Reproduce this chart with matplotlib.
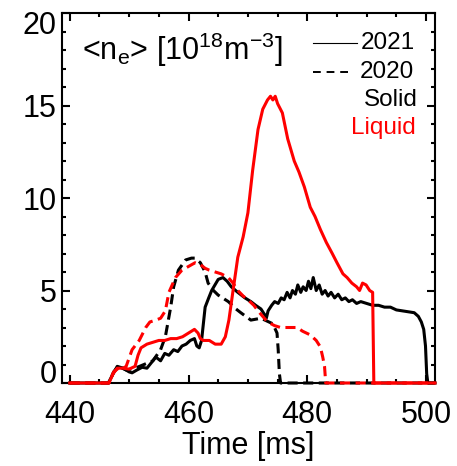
import numpy as np
import matplotlib
matplotlib.use('Agg')
import matplotlib.pyplot as plt
import matplotlib.transforms as mtransforms

plt.rcParams['font.family'] = ['Liberation Sans', 'DejaVu Sans']
plt.rcParams['mathtext.default'] = 'regular'

# line-averaged density, 10^18 m^-3, vs time in ms
t_solid_2021 = [440, 446.5, 447.3, 448, 449, 450, 450.5, 451.3, 452.2, 453, 454, 454.5,
                455.3, 456, 456.7, 457.5, 458.2, 458.9, 459.6, 460.3, 461, 461.4, 461.8,
                462.2, 462.8, 463.4, 463.9, 465, 465.8, 466.5, 467.2, 468.3, 469.5, 470.5,
                471.3, 472.2, 472.8, 473.1, 473.4, 474, 474.5, 475.1, 475.6, 476.1, 476.6,
                477.1, 477.5, 478, 478.4, 478.9, 479.3, 479.8, 480.2, 480.6, 481, 481.5,
                482, 482.5, 483, 483.5, 484, 484.6, 485.2, 485.8, 486.4, 487, 487.6, 488.3,
                489, 490, 491, 492, 493, 494, 495, 496, 497, 498, 498.7, 499.2, 499.6,
                499.9, 500.1, 500.3, 501.5]
n_solid_2021 = [0, 0, 0.5, 0.9, 0.8, 0.6, 0.55, 0.7, 0.85, 0.8, 1.2, 1.4,
                1.2, 1.6, 1.5, 1.8, 1.7, 2.0, 2.1, 2.3, 2.4, 2.0, 1.9,
                2.3, 4.1, 4.6, 5.0, 5.6, 5.7, 5.5, 5.2, 4.9, 4.6, 4.4,
                4.2, 4.0, 3.7, 3.5, 3.9, 4.2, 4.4, 4.3, 4.6, 4.5, 4.9,
                4.6, 5.0, 4.8, 5.3, 4.9, 5.2, 5.0, 5.5, 5.1, 5.7, 5.0,
                5.3, 4.8, 5.0, 4.7, 4.9, 4.6, 4.8, 4.5, 4.6, 4.4, 4.5, 4.3,
                4.4, 4.3, 4.2, 4.2, 4.1, 4.1, 3.95, 3.9, 3.85, 3.8, 3.6, 3.3, 2.9,
                2.0, 0.5, 0, 0]

t_solid_2020 = [440, 446.6, 447.4, 448.2, 449.5, 451, 452.5, 454, 455.3, 456.1, 457, 457.5,
                458.3, 459.5, 460.5, 461.1, 462, 462.8, 463.3, 464.2, 465, 466.7, 468,
                468.8, 470.5, 472.2, 474.2, 474.9, 475.1, 475.3, 475.5, 501.5]
n_solid_2020 = [0, 0, 0.6, 0.9, 0.7, 0.8, 1.0, 1.2, 1.8, 2.5, 4.1, 5.2,
                6.1, 6.65, 6.75, 6.75, 6.5, 6.0, 5.4, 5.0, 4.75, 4.4, 4.0,
                3.8, 3.4, 3.5, 3.2, 2.7, 1.8, 0.5, 0, 0]

t_liquid_2021 = [440, 446.6, 447.3, 448, 449, 450, 451, 451.5, 452, 453, 454, 455, 456, 457,
                 458, 459, 460, 461, 461.6, 462, 462.5, 463.5, 464.5, 465.5, 466.2, 466.8,
                 467.5, 468.3, 469.2, 470, 470.8, 471.7, 472.5, 473.3, 473.8, 474.2, 474.6,
                 475, 475.8, 476.7, 477.8, 478.6, 479.5, 480.5, 481.3, 482.2, 483.2, 484.2,
                 485, 486, 486.7, 487.5, 488.3, 488.8, 489.3, 489.9, 490.5, 491, 491.2, 501.5]
n_liquid_2021 = [0, 0, 0.5, 0.8, 0.8, 0.75, 0.9, 1.5, 1.9, 2.1, 2.2, 2.3, 2.3, 2.4,
                 2.4, 2.5, 2.7, 2.9, 2.7, 2.4, 2.3, 2.3, 2.1, 2.1, 2.5, 3.4,
                 5.0, 6.8, 7.9, 9.2, 11.5, 13.7, 14.8, 15.3, 15.5, 15.3, 15.5,
                 15.1, 14.6, 13.2, 12.0, 11.4, 10.6, 9.5, 9.0, 8.3, 7.6, 7.0,
                 6.5, 5.9, 5.7, 5.4, 5.2, 5.0, 5.4, 5.3, 5.0, 4.9, 0, 0]

t_liquid_2020 = [440, 446.6, 447.4, 448.2, 449, 449.5, 450.5, 451.7, 452.8, 453.5, 454.5,
                 455.3, 456.1, 456.7, 457.8, 458.9, 460, 461.1, 462, 462.8, 463.5, 464.5,
                 465.5, 466.7, 467.5, 468.3, 469.2, 470, 471, 471.7, 472.5, 473.3, 474.5,
                 475.5, 476.5, 477.5, 478.3, 479.2, 480.5, 481.5, 482.2, 482.6, 482.9, 483.1,
                 501.5]
n_liquid_2020 = [0, 0, 0.6, 0.8, 0.8, 0.9, 1.8, 2.3, 3.0, 3.3, 3.4,
                 3.5, 3.9, 4.9, 5.7, 6.1, 6.3, 6.5, 6.4, 6.2, 6.1, 6.0,
                 5.9, 5.7, 5.4, 5.0, 4.7, 4.5, 4.2, 3.9, 3.6, 3.3, 3.1,
                 3.0, 3.0, 3.0, 3.0, 2.8, 2.6, 2.3, 1.95, 1.4, 0.9, 0,
                 0]

fig = plt.figure(figsize=(4.57, 4.66), dpi=100)
ax = fig.add_axes([62 / 457, 83 / 466, 373 / 457, 370 / 466])

lw = 2.2
dash = (3.3, 1.8)
ax.plot(t_solid_2021, n_solid_2021, color='k', lw=lw, clip_on=False)
ax.plot(t_solid_2020, n_solid_2020, color='k', lw=lw, dashes=dash, clip_on=False)
ax.plot(t_liquid_2021, n_liquid_2021, color='red', lw=lw, clip_on=False, zorder=3)
ax.plot(t_liquid_2020, n_liquid_2020, color='red', lw=lw, dashes=dash, clip_on=False, zorder=3)

ax.set_xlim(438.7, 501.5)
ax.set_ylim(0, 20)
ax.set_xticks([440, 460, 480, 500])
ax.set_xticks(np.arange(440, 501, 5), minor=True)
ax.set_yticks([0, 5, 10, 15, 20])
ax.set_yticks(np.arange(0, 21, 1), minor=True)
ax.tick_params(which='both', direction='in', top=True, right=True, width=1.5,
               labelsize=22)
ax.tick_params(which='major', length=6)
ax.tick_params(which='minor', length=3)
ax.tick_params(axis='x', pad=12)
ax.tick_params(axis='y', pad=4)
for s in ax.spines.values():
    s.set_linewidth(1.5)
ax.set_xlabel('Time [ms]', fontsize=22, labelpad=1)

# end labels on the y axis sit inside the axis range
ylabels = ax.get_yticklabels()
ylabels[0].set_transform(ylabels[0].get_transform()
                         + mtransforms.ScaledTranslation(0, 8 / 72, fig.dpi_scale_trans))
ylabels[-1].set_transform(ylabels[-1].get_transform()
                          + mtransforms.ScaledTranslation(0, -7 / 72, fig.dpi_scale_trans))

ax.text(0.054, 0.873, r'<n$_{e}$> [10$^{18}$m$^{-3}$]', transform=ax.transAxes,
        fontsize=22, va='baseline', ha='left')

# legend drawn by hand
ax.plot([0.673, 0.791], [0.919, 0.919], transform=ax.transAxes, color='k', lw=0.8)
ax.plot([0.673, 0.780], [0.841, 0.841], transform=ax.transAxes, color='k', lw=1.4,
        dashes=(4, 3))
ax.text(0.945, 0.919, '2021', transform=ax.transAxes, fontsize=17.5, ha='right', va='center')
ax.text(0.945, 0.841, '2020', transform=ax.transAxes, fontsize=17.5, ha='right', va='center')
ax.text(0.955, 0.765, 'Solid', transform=ax.transAxes, fontsize=17.5, ha='right', va='center')
ax.text(0.948, 0.689, 'Liquid', transform=ax.transAxes, fontsize=17.5, ha='right', va='center',
        color='red')

fig.savefig('out.png', dpi=100)
